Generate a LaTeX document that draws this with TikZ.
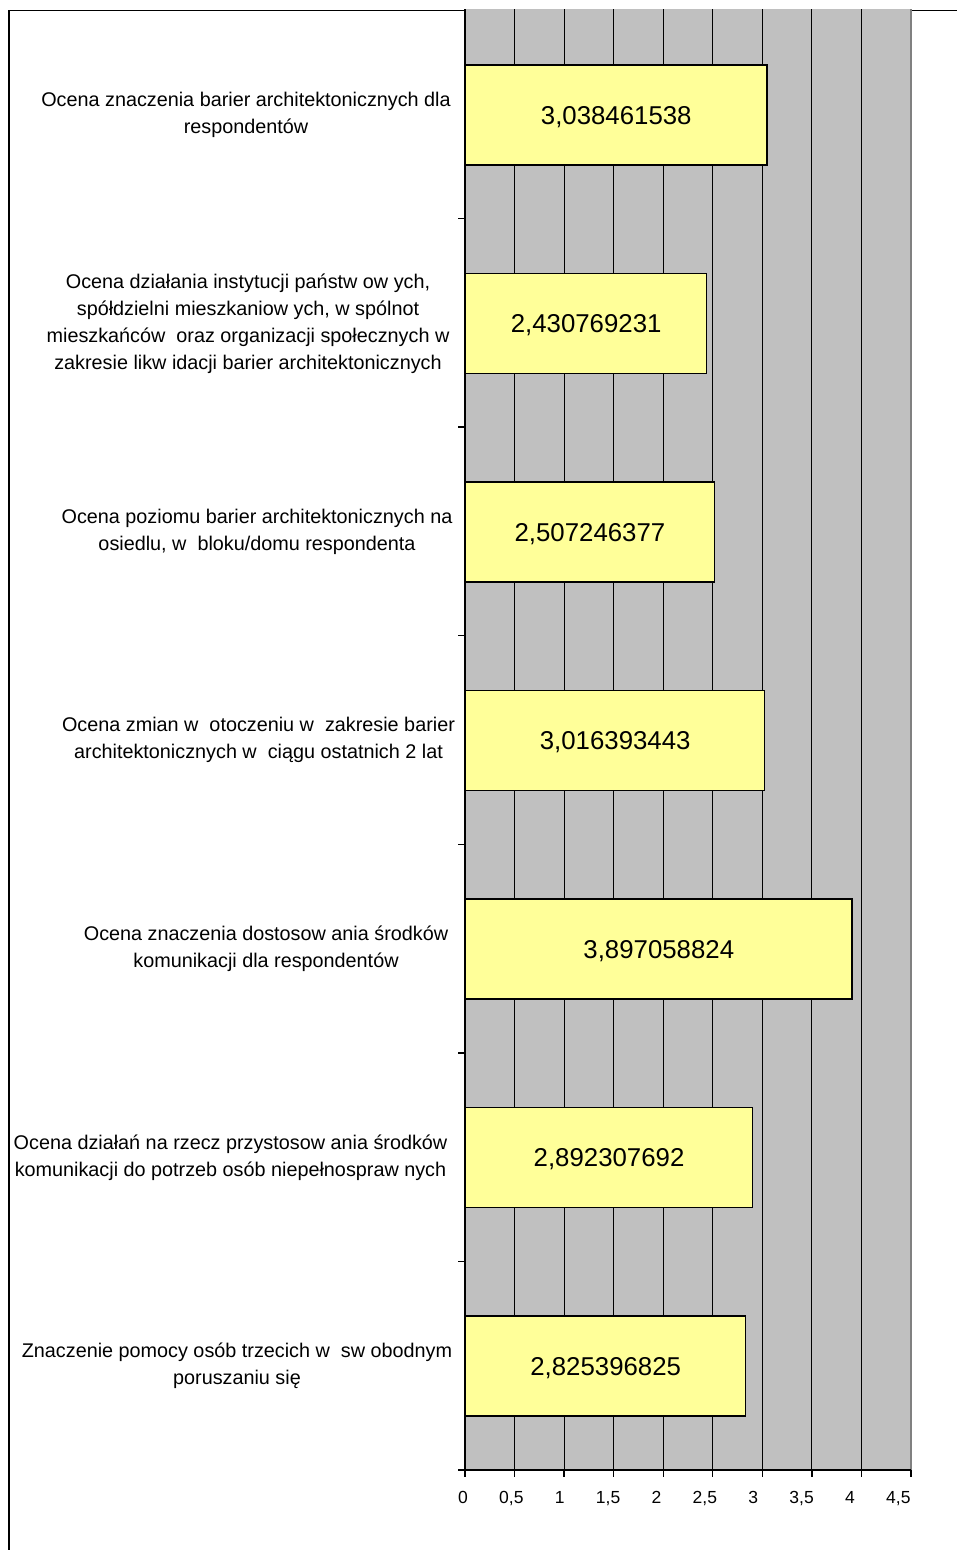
\documentclass[tikz,border=0pt]{standalone}
\usepackage{fontspec}
\setmainfont{Liberation Sans}
\definecolor{plotgray}{HTML}{C0C0C0}
\definecolor{bordergray}{HTML}{808080}
\definecolor{barfill}{HTML}{FFFF99}
\begin{document}
\begin{tikzpicture}[x=1pt,y=-1pt,
  barbox/.style={draw=black, line width=1.4pt, fill=barfill, rectangle, anchor=west,
    minimum height=100pt, inner sep=0pt, text depth=0pt, font=\fontsize{25.8}{30}\selectfont},
  catlab/.style={align=center, inner sep=0pt, font=\fontsize{19.8}{27}\selectfont},
  ticklab/.style={inner sep=0pt, anchor=base, font=\fontsize{17.5}{20}\selectfont},
  gridline/.style={black, line width=0.9pt},
  axisline/.style={black, line width=1.3pt}]
\useasboundingbox (0,0) rectangle (957,1550);
\fill[white] (0,0) rectangle (957,1550);
% outer frame (top and left)
\draw[line width=1.3pt] (9,1550) -- (9,10.5) -- (957,10.5);
% plot area
\fill[plotgray] (465,9) rectangle (911,1470);
\foreach \v in {1,...,8}
  \draw[gridline] ({465+\v*49.5556},9) -- ({465+\v*49.5556},1470);
\draw[bordergray, line width=1.4pt] (911,9) -- (911,1470);
% axes
\coordinate (o) at (465,1470);
\coordinate (top) at (465,9);
\coordinate (xend) at (911,1470);
\draw[axisline] (top) -- (o) -- (xend);
\foreach \i in {1,...,7}
  \draw[axisline] (458,{10+\i*208.571}) -- (465,{10+\i*208.571});
\foreach \v/\t in {0/0,1/{0,5},2/1,3/{1,5},4/2,5/{2,5},6/3,7/{3,5},8/4,9/{4,5}}{
  \draw[axisline] ({465+\v*49.5556},1470) -- ({465+\v*49.5556},1477);
  \node[ticklab] (t\v) at ({463+\v*48.375},1503.5) {\t};
}
% bars
\node[barbox, minimum width=301.1pt] (b1) at (465,115) {3,038461538};
\node[barbox, minimum width=240.9pt] (b2) at (465,323.5) {2,430769231};
\node[barbox, minimum width=248.5pt] (b3) at (465,532) {2,507246377};
\node[barbox, minimum width=299.0pt] (b4) at (465,740.5) {3,016393443};
\node[barbox, minimum width=386.2pt] (b5) at (465,949) {3,897058824};
\node[barbox, minimum width=286.7pt] (b6) at (465,1157.5) {2,892307692};
\node[barbox, minimum width=280.0pt] (b7) at (465,1366) {2,825396825};
% category labels
\node[catlab] (l1) at (246,114.5) {Ocena znaczenia barier architektonicznych dla\\respondentów};
\node[catlab] (l2) at (248,323.5) {Ocena działania instytucji państw ow ych,\\spółdzielni mieszkaniow ych, w spólnot\\mieszkańców \ oraz organizacji społecznych w\\zakresie likw idacji barier architektonicznych};
\node[catlab] (l3) at (257,531.5) {Ocena poziomu barier architektonicznych na\\osiedlu, w \ bloku/domu respondenta};
\node[catlab] (l4) at (258.5,740) {Ocena zmian w \ otoczeniu w \ zakresie barier\\architektonicznych w \ ciągu ostatnich 2 lat};
\node[catlab] (l5) at (266,949) {Ocena znaczenia dostosow ania środków\\komunikacji dla respondentów};
\node[catlab] (l6) at (230.5,1157.5) {Ocena działań na rzecz przystosow ania środków\\komunikacji do potrzeb osób niepełnospraw nych};
\node[catlab] (l7) at (237,1366) {Znaczenie pomocy osób trzecich w \ sw obodnym\\poruszaniu się};
\end{tikzpicture}
\end{document}
